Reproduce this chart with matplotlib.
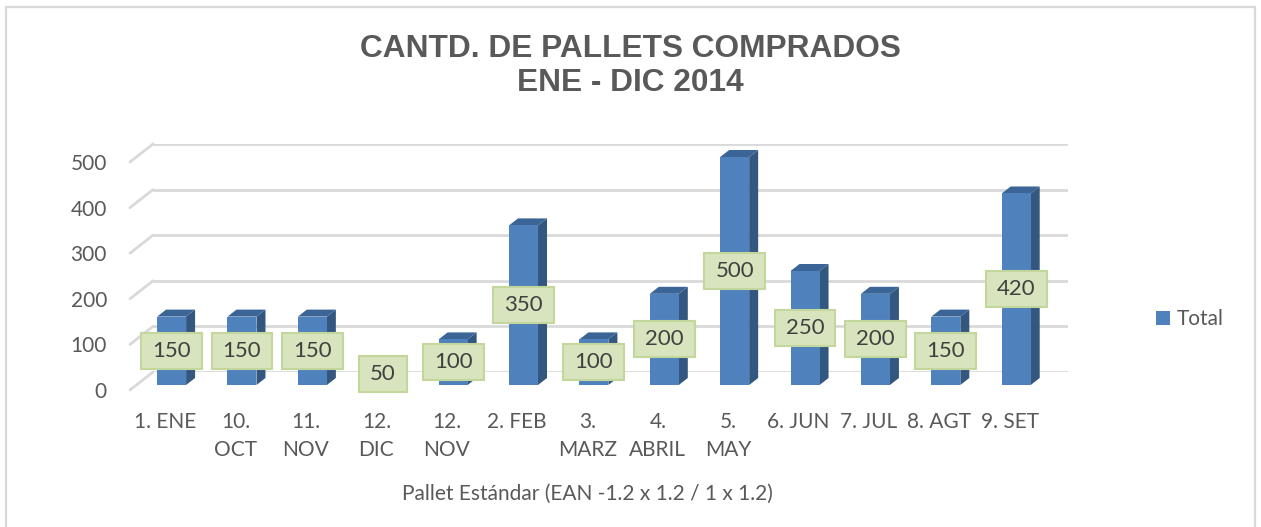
import matplotlib
matplotlib.use("Agg")
import matplotlib.pyplot as plt
from matplotlib.patches import Polygon, Rectangle, ConnectionPatch
from matplotlib.path import Path

# ---------------- data ----------------
categories = ["1. ENE", "10.\nOCT", "11.\nNOV", "12.\nDIC", "12.\nNOV", "2. FEB",
              "3.\nMARZ", "4.\nABRIL", "5.\nMAY", "6. JUN", "7. JUL", "8. AGT", "9. SET"]
values = [150, 150, 150, 50, 100, 350, 100, 200, 500, 250, 200, 150, 420]
yticks = [0, 100, 200, 300, 400, 500]
series_name = "Total"
title = "CANTD. DE PALLETS COMPRADOS\nENE - DIC 2014"
xlabel = "Pallet Estándar (EAN -1.2 x 1.2 / 1 x 1.2)"

# ---------------- style ----------------
plt.rcParams['font.family'] = ['Lato', 'DejaVu Sans']
W, H, DPI = 1261, 527, 100
FRONT = '#4f81bd'
SIDE = '#33577f'
TOP = '#3b6597'
GRID = '#d9d9d9'
TXT = '#595959'
LBL_TXT = '#404040'
LBL_FC = '#d7e4bd'
LBL_EC = '#c3d69b'
FS = 15

fig = plt.figure(figsize=(W / DPI, H / DPI), dpi=DPI)
fig.patch.set_facecolor('white')

# plot geometry (pixels) : bar front plane
left_px, right_px = 136.4, 1051.4
bot_px, top_px = 385, 157
n = len(categories)
xlim = (-0.5, n - 0.5)
ylim = (0, 500)


def pos(dx=0.0, dy=0.0):
    # dx right, dy down (pixels)
    l = (left_px + dx) / W
    b = 1 - (bot_px + dy) / H
    return [l, b, (right_px - left_px) / W, (bot_px - top_px) / H]


ax_b = fig.add_axes(pos(16.6, -13))   # back wall (gridlines)
ax_f = fig.add_axes(pos(-6.4, 5))     # front plane (tick labels)
ax = fig.add_axes(pos())              # bars
for a, z in ((ax_b, 0), (ax_f, 1), (ax, 2)):
    a.set_xlim(*xlim)
    a.set_ylim(*ylim)
    a.set_zorder(z)
    a.patch.set_visible(False)
    for s in a.spines.values():
        s.set_visible(False)

# back wall gridlines
ax_b.set_yticks(yticks)
ax_b.set_xticks([])
ax_b.tick_params(left=False, labelleft=False)
ax_b.yaxis.grid(True, color=GRID, lw=2)

# diagonal lines connecting front plane to back wall
for v in yticks:
    cp = ConnectionPatch(xyA=(xlim[0], v), coordsA=ax_f.transData,
                         xyB=(xlim[0], v), coordsB=ax_b.transData,
                         color=GRID, lw=2)
    fig.add_artist(cp)
    cp.set_zorder(0)

# front plane tick labels
ax_f.set_yticks(yticks)
ax_f.set_yticklabels([str(t) for t in yticks])
ax_f.set_xticks(range(n))
ax_f.set_xticklabels(categories, linespacing=1.55)
ax_f.tick_params(axis='both', length=0, colors=TXT, labelsize=FS)
ax_f.tick_params(axis='y', pad=16.6)
ax_f.tick_params(axis='x', pad=15.5)

# bars (3D look)
bar_w = 29 / ((right_px - left_px) / n)
dx = 9 / ((right_px - left_px) / (xlim[1] - xlim[0]))
dy = 7 / ((bot_px - top_px) / (ylim[1] - ylim[0]))
ax.set_xticks([])
ax.set_yticks([])
bars = ax.bar(range(n), values, width=bar_w, color=FRONT, label=series_name, zorder=3)
for b in bars:
    b.set_clip_on(False)
for i, v in enumerate(values):
    xr = i + bar_w / 2
    xl = i - bar_w / 2
    ax.add_patch(Polygon([(xr, 0), (xr + dx, dy), (xr + dx, v + dy), (xr, v)],
                         closed=True, fc=SIDE, ec='none', zorder=2.9, clip_on=False))
    ax.add_patch(Polygon([(xl, v), (xr, v), (xr + dx, v + dy), (xl + dx, v + dy)],
                         closed=True, fc=TOP, ec='none', zorder=2.9, clip_on=False))


def label_box(x0, y0, width, height, mutation_size):
    px = 0.5 * mutation_size
    py = 0.36 * mutation_size
    x0, y0 = x0 - px, y0 - py
    x1, y1 = x0 + width + 2 * px, y0 + height + 2 * py
    return Path([(x0, y0), (x1, y0), (x1, y1), (x0, y1), (x0, y0)], closed=True)


for i, v in enumerate(values):
    ax.text(i, v / 2, str(v), ha='center', va='center', fontsize=16, color=LBL_TXT,
            zorder=5, clip_on=False,
            bbox=dict(boxstyle=label_box, fc=LBL_FC, ec=LBL_EC, lw=1.5))

# legend
fig.legend(handles=[bars], labels=[series_name], loc='center left',
           bbox_to_anchor=(1156 / W, 1 - 319 / H), frameon=False, fontsize=FS,
           labelcolor=TXT, handlelength=0.65, handleheight=0.65, handletextpad=0.35,
           borderpad=0, borderaxespad=0)

# titles
fig.text(0.5, 1 - 66 / H, title, ha='center', va='center', fontsize=22.8,
         fontweight='bold', color=TXT, family=['Liberation Sans', 'DejaVu Sans'],
         linespacing=1.2)
fig.text(587 / W, 1 - 494 / H, xlabel, ha='center', va='center', fontsize=FS, color=TXT)

# chart border
fig.add_artist(Rectangle((6 / W, -0.05), (1255 - 6) / W, 1.05 - 7 / H,
                         transform=fig.transFigure, fill=False, ec=GRID, lw=1.6))

fig.savefig('out.png', dpi=DPI)
